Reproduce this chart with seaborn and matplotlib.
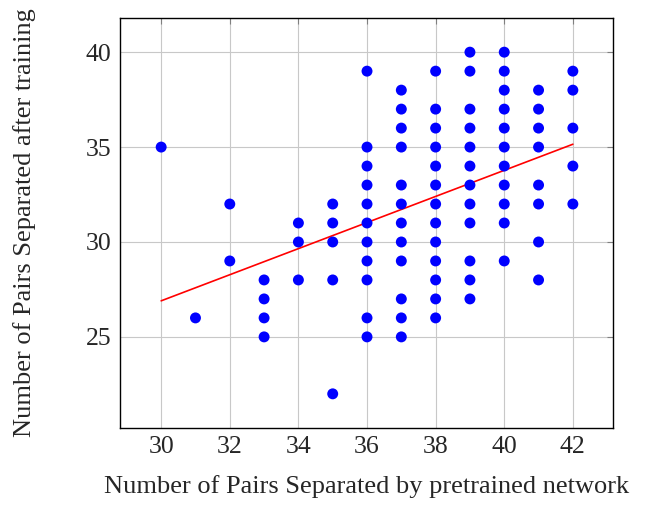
import matplotlib
matplotlib.use("Agg")
import matplotlib.pyplot as plt
import seaborn as sns
import pandas as pd

# Data: y values per pretrained-network x value
x_values = [30, 31, 32, 33, 34, 35, 36, 37, 38, 39, 40, 41, 42]
y_at_30 = [35]
y_at_31 = [26]
y_at_32 = [32, 29]
y_at_33 = [28, 27, 26, 25]
y_at_34 = [31, 30, 28]
y_at_35 = [32, 31, 30, 28, 22]
y_at_36 = [39, 35, 34, 33, 32, 31, 30, 29, 28, 26, 25]
y_at_37 = [38, 37, 36, 35, 33, 32, 31, 30, 29, 27, 26, 25]
y_at_38 = [39, 37, 36, 35, 34, 33, 32, 31, 30, 29, 28, 27, 26]
y_at_39 = [40, 39, 37, 36, 35, 34, 33, 32, 31, 29, 28, 27]
y_at_40 = [40, 39, 38, 37, 36, 35, 34, 33, 32, 31, 29]
y_at_41 = [38, 37, 36, 35, 33, 32, 30, 28]
y_at_42 = [39, 38, 36, 34, 32]

fit_x = [30, 42]
fit_y = [26.9, 35.15]

x_ticks = [30, 32, 34, 36, 38, 40, 42]
y_ticks = [25, 30, 35, 40]

columns = [y_at_30, y_at_31, y_at_32, y_at_33, y_at_34, y_at_35, y_at_36,
           y_at_37, y_at_38, y_at_39, y_at_40, y_at_41, y_at_42]
rows = [(xv, yv) for xv, ys in zip(x_values, columns) for yv in ys]
df = pd.DataFrame(rows, columns=["x", "y"])
fit_df = pd.DataFrame({"x": fit_x, "y": fit_y})

sns.set_style("white")
plt.rcParams["font.family"] = ["Liberation Serif", "DejaVu Serif"]

fig = plt.figure(figsize=(6.49, 5.05), dpi=100)
ax = fig.add_axes([120 / 649, 1 - 428 / 505, 493 / 649, 410 / 505])

sns.lineplot(data=fit_df, x="x", y="y", ax=ax, color="red", linewidth=1.2, zorder=2)
sns.scatterplot(data=df, x="x", y="y", ax=ax, color="blue", s=62,
                edgecolor="none", linewidth=0, zorder=3)

ax.set_xlim(28.8, 43.17)
ax.set_ylim(20.2, 41.8)
ax.set_xticks(x_ticks)
ax.set_yticks(y_ticks)
ax.grid(True, color="#c8c8c8", linewidth=0.8, zorder=0)
ax.set_axisbelow(True)
ax.tick_params(direction="in", length=4, width=0.8, color="#808080",
               top=True, right=True, labelsize=18.5, pad=6)
for sp in ax.spines.values():
    sp.set_color("black")
    sp.set_linewidth(1.0)
    sp.set_visible(True)

ax.set_xlabel("Number of Pairs Separated by pretrained network", fontsize=19)
ax.set_ylabel("Number of Pairs Separated after training", fontsize=19)
ax.xaxis.set_label_coords(0.5, -(487 - 428) / 410, transform=ax.transAxes)
ax.xaxis.label.set_va("center")
ax.yaxis.set_label_coords(-(120 - 25) / 493, 0.5, transform=ax.transAxes)
ax.yaxis.label.set_va("center")

fig.savefig("out.png", dpi=100)
